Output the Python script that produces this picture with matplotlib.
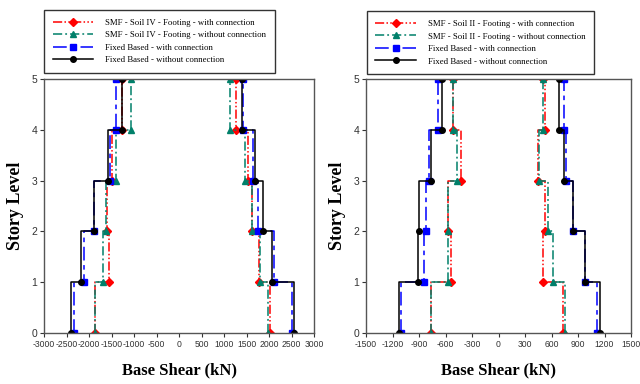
import matplotlib
matplotlib.use("Agg")
import matplotlib.pyplot as plt

plt.rcParams["axes.unicode_minus"] = False

# story levels 0..5
levels = [0, 1, 2, 3, 4, 5]

# Soil IV panel (kN), negative / positive envelopes
iv_red_neg = [-1867, -1556, -1607, -1490, -1270, -1270]
iv_red_pos = [2022, 1763, 1615, 1520, 1259, 1259]
iv_green_neg = [-1867, -1696, -1622, -1407, -1065, -1065]
iv_green_pos = [1970, 1793, 1615, 1467, 1133, 1133]
iv_blue_neg = [-2326, -2111, -1889, -1548, -1400, -1400]
iv_blue_pos = [2500, 2096, 1741, 1637, 1407, 1420]
iv_black_neg = [-2400, -2178, -1889, -1571, -1274, -1274]
iv_black_pos = [2541, 2065, 1867, 1689, 1393, 1393]

# Soil II panel (kN)
ii_red_neg = [-764, -538, -575, -430, -512, -512]
ii_red_pos = [727, 508, 527, 451, 527, 508]
ii_green_neg = [-764, -575, -575, -470, -518, -512]
ii_green_pos = [753, 621, 557, 459, 500, 500]
ii_blue_neg = [-1104, -847, -824, -790, -681, -681]
ii_blue_pos = [1112, 979, 840, 761, 745, 745]
ii_black_neg = [-1123, -908, -897, -764, -636, -636]
ii_black_pos = [1149, 979, 840, 742, 688, 688]

iv_ticks = list(range(-3000, 3001, 500))
ii_ticks = list(range(-1500, 1501, 300))

SERIF = ["Liberation Serif", "DejaVu Serif"]
SANS = ["Liberation Sans", "DejaVu Sans"]

styles = {
    "red": dict(color="#ff0000", ls=(0, (6, 1.5, 1, 1.5, 1, 1.5)), marker="D", ms=3.8),
    "green": dict(color="#00806a", ls=(0, (6, 2, 1.2, 2)), marker="^", ms=4.5),
    "blue": dict(color="#0000ff", ls=(0, (9, 3, 3, 3)), marker="s", ms=4.2),
    "black": dict(color="black", ls="-", marker="o", ms=4.0),
}


def step(vals):
    xs, ys = [], []
    for i in range(5):
        xs += [vals[i], vals[i]]
        ys += [levels[i], levels[i + 1]]
    xs.append(vals[5])
    ys.append(levels[5])
    return xs, ys


def panel(ax, series, labels, ticks, lim, legend_anchor):
    handles = []
    for key, label in zip(["red", "green", "blue", "black"], labels):
        st = styles[key]
        for j, vals in enumerate(series[key]):
            xs, ys = step(vals)
            h, = ax.plot(xs, ys, color=st["color"], ls=st["ls"], lw=1.1,
                         marker=st["marker"], ms=st["ms"], markevery=slice(0, None, 2),
                         label=label if j == 0 else None)
            if j == 0:
                handles.append(h)
    ax.set_xlim(-lim, lim)
    ax.set_ylim(0, 5)
    ax.set_xticks(ticks)
    ax.set_yticks(levels)
    ax.tick_params(direction="out", length=3, width=0.8, colors="#333333", pad=2)
    ax.tick_params(axis="x", labelsize=6.2)
    ax.tick_params(axis="y", labelsize=7.5)
    for lab in ax.get_xticklabels() + ax.get_yticklabels():
        lab.set_family(SANS)
    for sp in ax.spines.values():
        sp.set_color("#555555")
        sp.set_linewidth(1.0)
    ax.set_xlabel("Base Shear (kN)", family=SERIF, fontweight="bold", fontsize=12, labelpad=10)
    ax.set_ylabel("Story Level", family=SERIF, fontweight="bold", fontsize=13, labelpad=5)
    leg = ax.legend(handles=handles, loc="upper left", bbox_to_anchor=legend_anchor,
                    bbox_transform=ax.figure.transFigure, prop={"family": SERIF, "size": 6.3},
                    frameon=True, fancybox=False, edgecolor="black", handlelength=4.6,
                    handletextpad=1.4, labelspacing=0.5, borderpad=1.0, borderaxespad=0,
                    numpoints=1)
    leg.get_frame().set_linewidth(1.0)


fig = plt.figure(figsize=(6.4, 3.84), dpi=100)
ax1 = fig.add_axes([0.069, 0.133, 0.422, 0.661])
ax2 = fig.add_axes([0.572, 0.133, 0.414, 0.661])

panel(ax1,
      {"red": [iv_red_neg, iv_red_pos], "green": [iv_green_neg, iv_green_pos],
       "blue": [iv_blue_neg, iv_blue_pos], "black": [iv_black_neg, iv_black_pos]},
      ["SMF - Soil IV - Footing - with connection",
       "SMF - Soil IV - Footing - without connection",
       "Fixed Based - with connection",
       "Fixed Based - without connection"],
      iv_ticks, 3000, (0.069, 0.974))

panel(ax2,
      {"red": [ii_red_neg, ii_red_pos], "green": [ii_green_neg, ii_green_pos],
       "blue": [ii_blue_neg, ii_blue_pos], "black": [ii_black_neg, ii_black_pos]},
      ["SMF - Soil II - Footing - with connection",
       "SMF - Soil II - Footing - without connection",
       "Fixed Based - with connection",
       "Fixed Based - without connection"],
      ii_ticks, 1500, (0.573, 0.971))

fig.savefig("out.png", dpi=100)
